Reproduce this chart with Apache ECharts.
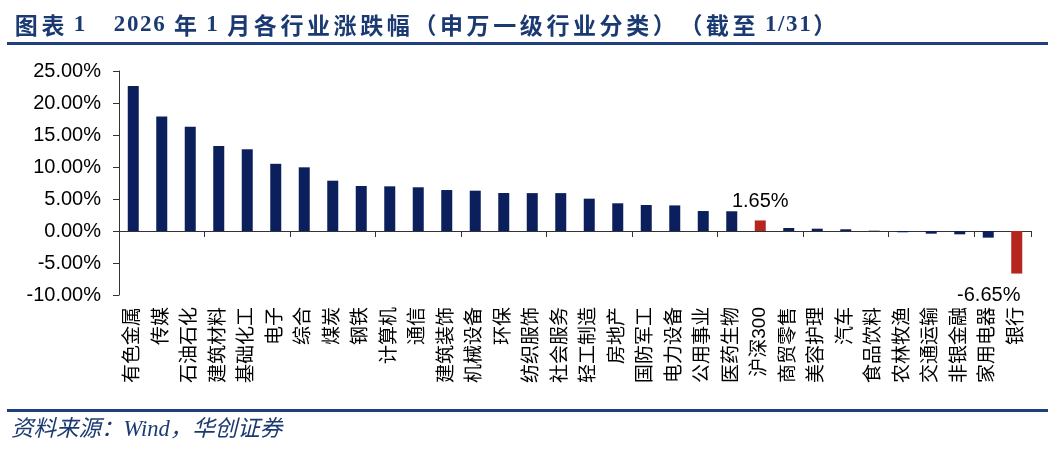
<!DOCTYPE html>
<html>
<head>
<meta charset="utf-8">
<script src="https://cdn.jsdelivr.net/npm/echarts@6/dist/echarts.min.js"></script>
<style>
html,body{margin:0;padding:0;background:#fff;}
#chart{width:1054px;height:458px;}
</style>
</head>
<body>
<div id="chart"></div>
<script>
const titleText = '图表 1    2026 年 1 月各行业涨跌幅（申万一级行业分类）（截至 1/31）';
const sourceText = '资料来源：Wind，华创证券';
const categories = ['有色金属','传媒','石油石化','建筑材料','基础化工','电子','综合','煤炭','钢铁','计算机','通信','建筑装饰','机械设备','环保','纺织服饰','社会服务','轻工制造','房地产','国防军工','电力设备','公用事业','医药生物','沪深300','商贸零售','美容护理','汽车','食品饮料','农林牧渔','交通运输','非银金融','家用电器','银行'];
const values = [22.66,17.90,16.30,13.28,12.77,10.50,9.95,7.86,7.03,6.98,6.83,6.40,6.30,5.94,5.92,5.92,5.05,4.33,4.06,4.00,3.12,3.08,1.65,0.47,0.36,0.27,0.05,-0.20,-0.42,-0.52,-1.04,-6.65];
const highlighted = ['沪深300','银行'];
const yTicks = {min:-10, max:25, interval:5};

const NAVY = '#0b1f5c', RED = '#b5261e', BLUE_LINE = '#1f3f7f';

const seriesData = categories.map((c, i) => {
  const v = values[i];
  const hl = highlighted.indexOf(c) >= 0;
  const item = {value: v, itemStyle: {color: hl ? RED : NAVY}};
  if (hl) {
    item.label = {
      show: true,
      position: v >= 0 ? 'top' : 'bottom',
      distance: v >= 0 ? 9 : 12,
      offset: v >= 0 ? [0, 0] : [-28, 0],
      formatter: p => p.value.toFixed(2) + '%',
      color: '#000', fontSize: 20, fontFamily: 'Liberation Sans, Arial, sans-serif'
    };
  }
  return item;
});

// title with per-character spacing (rich tokens)
function spaced(text) {
  return text.split('').map(ch => {
    if (ch === ' ') return '{s| }';
    if (/[0-9\/]/.test(ch)) return '{d|' + ch + '}';
    return '{c|' + ch + '}';
  }).join('');
}

const chart = echarts.init(document.getElementById('chart'), null, {renderer:'canvas'});
chart.setOption({
  animation: false,
  backgroundColor: '#fff',
  title: {
    text: spaced(titleText), left: 8, top: 9,
    textStyle: {
      fontSize: 23, fontWeight: 'bold', color: '#1b3a72', fontFamily: 'Liberation Serif, Noto Sans CJK SC, serif',
      rich: {
        c: {fontSize: 23, fontWeight: 'bold', color: '#1b3a72', fontFamily: 'Noto Sans CJK SC, sans-serif', padding: [0, 1.8]},
        d: {fontSize: 23, fontWeight: 'bold', color: '#1b3a72', fontFamily: 'Liberation Serif, serif', padding: [0, 0.8]},
        s: {fontSize: 23, fontWeight: 'bold', color: '#1b3a72', fontFamily: 'Liberation Serif, serif', padding: [0, 0.5]}
      }
    }
  },
  graphic: [
    {type:'rect', shape:{x:7, y:42, width:1041, height:3}, style:{fill: BLUE_LINE}, silent:true},
    {type:'rect', shape:{x:7, y:409, width:1041, height:3}, style:{fill: BLUE_LINE}, silent:true},
    {type:'text', left: 11, top: 419, style:{text: sourceText, fontSize: 22.5, fontStyle:'italic', fill:'#1b3a72', fontFamily:'Liberation Serif, Noto Sans CJK SC, serif'}}
  ],
  grid: {left: 119, right: 23, top: 71, bottom: 163, containLabel: false},
  xAxis: [
    {
      type: 'category', data: categories, position: 'bottom',
      axisLine: {show: false, onZero: false}, axisTick: {show: false},
      axisLabel: {
        interval: 0, rotate: 90, margin: 12, fontSize: 19, color: '#000',
        fontFamily: 'Liberation Sans, Noto Sans CJK SC, sans-serif'
      }
    },
    {
      type: 'category', data: categories, position: 'bottom',
      axisLine: {show: true, onZero: true, lineStyle: {color: '#333', width: 1}},
      axisTick: {show: true, length: 6, lineStyle: {color: '#333'}},
      axisLabel: {show: false}
    }
  ],
  yAxis: {
    type: 'value', min: yTicks.min, max: yTicks.max, interval: yTicks.interval,
    axisLine: {show: true, lineStyle: {color: '#333', width: 1}},
    axisTick: {show: true, length: 6, lineStyle: {color: '#333'}},
    splitLine: {show: false},
    axisLabel: {
      margin: 18, fontSize: 20, color: '#000', fontFamily: 'Liberation Sans, Arial, sans-serif',
      formatter: v => v.toFixed(2) + '%'
    }
  },
  series: [{
    type: 'bar', xAxisIndex: 0, yAxisIndex: 0,
    barWidth: 11, data: seriesData
  }]
});
</script>
</body>
</html>
